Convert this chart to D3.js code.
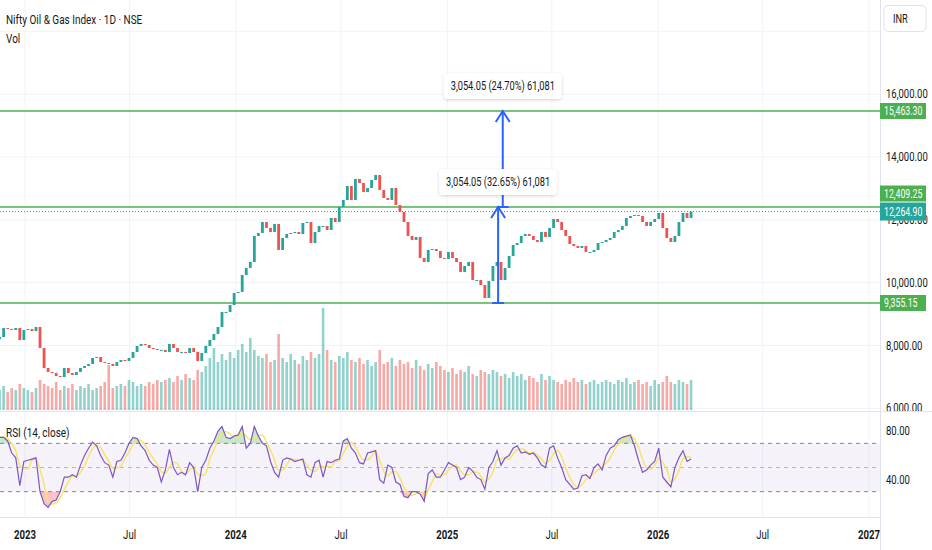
<!DOCTYPE html>
<html>
<head>
<meta charset="utf-8">
<script src="https://cdn.jsdelivr.net/npm/d3@7"></script>
<style>
body { margin: 0; background: #fff; }
text { font-family: Roboto, "Noto Sans", sans-serif; fill: #131722; }
</style>
</head>
<body>
<script>
// weekly closes, first week ending 18 Nov 2022
const startDate = new Date(2022, 10, 18);
const firstOpen = 8200;
const closes = [
  8273, 8560, 8528, 8496, 8560, 8178, 8496, 8528, 8464, 8591,
  7923, 7287, 7159, 7128, 7032, 7000, 7287, 7128, 7064, 7159,
  7287, 7350, 7414, 7605, 7637, 7478, 7446, 7414, 7350, 7478,
  7541, 7510, 7605, 7796, 7987, 8050, 8019, 7923, 7891, 7860,
  7860, 7796, 8050, 7923, 7796, 7796, 7764, 7923, 7796, 7510,
  7764, 7987, 8178, 8369, 8591, 9069, 9069, 9291, 9673, 9705,
  10246, 10469, 10660, 11487, 11582, 11932, 11742, 11614, 11869, 11041,
  11423, 11550, 11582, 11614, 11550, 11901, 11932, 11264, 11614, 11805,
  11805, 11678, 12060, 11932, 12410, 12632, 13078, 12632, 13301, 13173,
  12887, 13014, 13269, 13428, 12951, 12696, 12632, 13014, 12473, 12251,
  11932, 11487, 11360, 11455, 10787, 10660, 11041, 11073, 11010, 10787,
  10755, 10978, 10787, 10660, 10341, 10532, 10660, 10087, 10087, 9928,
  9514, 10055, 10532, 10660, 10087, 10469, 10850, 11200, 11264, 11487,
  11550, 11487, 11360, 11296, 11614, 11455, 11742, 12028, 11932, 11678,
  11487, 11232, 11169, 11105, 11169, 10978, 10978, 11041, 11264, 11296,
  11360, 11423, 11614, 11678, 11805, 12060, 12123, 12155, 12123, 11932,
  11805, 11932, 12028, 12219, 11742, 11423, 11296, 11487, 11932, 12219,
  12060, 12264.9
];
const volumes = [
  20, 24, 18, 22, 20, 26, 22, 20, 18, 22,
  30, 26, 24, 22, 28, 20, 24, 22, 26, 20,
  24, 22, 26, 20, 22, 24, 28, 45, 22, 24,
  26, 24, 30, 28, 24, 26, 24, 28, 26, 30,
  28, 30, 32, 28, 34, 30, 36, 32, 30, 40,
  38, 44, 52, 62, 48, 56, 50, 58, 52, 60,
  66, 58, 72, 60, 54, 52, 56, 48, 50, 76,
  52, 48, 56, 50, 46, 54, 50, 58, 52, 56,
  102, 60, 50, 48, 54, 52, 58, 50, 48, 52,
  46, 50, 44, 48, 60, 46, 48, 52, 44, 50,
  46, 48, 42, 50, 44, 40, 46, 42, 48, 44,
  40, 38, 42, 36, 40, 38, 44, 36, 34, 40,
  38, 36, 40, 38, 34, 36, 32, 38, 34, 36,
  30, 34, 32, 28, 36, 30, 34, 30, 28, 26,
  30, 28, 32, 28, 30, 26, 28, 30, 26, 28,
  30, 28, 26, 30, 28, 32, 26, 28, 30, 26,
  28, 24, 30, 26, 28, 34, 28, 26, 30, 28,
  26, 30
];
const rsiValues = [
  75, 75, 72, 62, 58, 35, 55, 56, 57, 58,
  30, 20, 17, 22, 23, 30, 42, 42, 44, 42,
  52, 60, 66, 71, 68, 60, 54, 52, 42, 55,
  56, 62, 70, 75, 74, 68, 64, 56, 52, 50,
  38, 48, 65, 50, 44, 46, 44, 54, 50, 30,
  50, 56, 66, 72, 80, 84, 75, 74, 76, 77,
  84, 66, 70, 84, 76, 70, 68, 55, 46, 42,
  56, 58, 57, 55, 56, 57, 44, 42, 54, 56,
  42, 55, 54, 56, 57, 72, 74, 66, 62, 54,
  53, 62, 63, 64, 40, 37, 52, 50, 38, 36,
  26, 25, 30, 30, 28, 22, 45, 48, 42, 42,
  48, 54, 52, 50, 40, 42, 50, 47, 42, 40,
  32, 50, 55, 64, 52, 58, 60, 66, 68, 62,
  63, 61, 62, 58, 52, 50, 66, 68, 58, 50,
  40, 36, 32, 33, 43, 44, 41, 50, 53, 48,
  60, 66, 68, 73, 75, 76, 77, 68, 56, 46,
  48, 52, 55, 66, 42, 38, 34, 50, 58, 64,
  55, 57
];
const priceTicks = [6000, 8000, 10000, 12000, 14000, 16000];
const gridOnly = [18000];
const levels = [15463.30, 12409.25, 9355.15];
const lastPrice = 12264.90;
const rsiTicks = [40, 80];
const rsiLines = [70, 50, 30];
const timeTickDates = ['2023-01-01', '2023-07-01', '2024-01-01', '2024-07-01', '2025-01-01', '2025-07-01', '2026-01-01', '2026-07-01', '2027-01-01'];
const timeTickLabels = ['2023', 'Jul', '2024', 'Jul', '2025', 'Jul', '2026', 'Jul', '2027'];
const measures = [
  { date: '2025-03-30', from: 9355.15, to: 12409.25, text: '3,054.05 (32.65%) 61,081' },
  { date: '2025-04-07', from: 12409.25, to: 15463.30, text: '3,054.05 (24.70%) 61,081' }
];

const W = 932, H = 550;
const axisX = 880;
const squeeze = 0.74; // the screenshot glyphs are narrow
const up = '#26a69a', down = '#ef5350', lineGreen = '#4caf50';

const svg = d3.select('body').append('svg').attr('width', W).attr('height', H);
const defs = svg.append('defs');
defs.append('clipPath').attr('id', 'mainClip').append('rect').attr('x', 0).attr('y', 0).attr('width', axisX).attr('height', 411);
defs.append('clipPath').attr('id', 'rsiClip').append('rect').attr('x', 0).attr('y', 412).attr('width', axisX).attr('height', 105);
defs.append('clipPath').attr('id', 'axisClip').append('rect').attr('x', axisX).attr('y', 0).attr('width', W - axisX).attr('height', 411);
const shadow = defs.append('filter').attr('id', 'shadow').attr('x', '-20%').attr('y', '-40%').attr('width', '140%').attr('height', '180%');
shadow.append('feDropShadow').attr('dx', 0).attr('dy', 1).attr('stdDeviation', 1.5).attr('flood-color', '#000').attr('flood-opacity', 0.18);

const parse = d3.timeParse('%Y-%m-%d');
const x = d3.scaleTime().domain([new Date(2023, 0, 1), new Date(2027, 0, 1)]).range([25, 869]);
const y = d3.scaleLinear().domain([5950, 18995]).range([410, 0]);
const yVol = d3.scaleLinear().domain([0, 120]).range([410, 290]);
const yRsi = d3.scaleLinear().domain([9, 96]).range([517, 412]);

const data = closes.map((c, i) => ({
  date: d3.timeDay.offset(startDate, 7 * i),
  open: i ? closes[i - 1] : firstOpen,
  close: c,
  vol: volumes[i],
  rsi: rsiValues[i]
}));
// RSI-based moving average, about 14 sessions = 3 weekly points
data.forEach((d, i) => {
  d.ma = d3.mean(data.slice(Math.max(0, i - 2), i + 1), e => e.rsi);
});

function label(g, px, py, str, size, opts = {}) {
  return g.append('text')
    .attr('transform', `translate(${px},${py}) scale(${opts.sq || squeeze},1)`)
    .attr('font-size', size)
    .attr('text-anchor', opts.anchor || 'start')
    .attr('dominant-baseline', 'central')
    .attr('font-weight', opts.weight || 400)
    .style('fill', opts.color || '#131722')
    .text(str);
}

// grid
const grid = svg.append('g');
grid.selectAll('.hg').data(priceTicks.concat(gridOnly)).enter().append('line')
  .attr('x1', 0).attr('x2', axisX).attr('y1', d => y(d)).attr('y2', d => y(d))
  .attr('stroke', '#f0f3fa').attr('stroke-width', 1);
grid.selectAll('.vg').data(timeTickDates).enter().append('line')
  .attr('x1', d => x(parse(d))).attr('x2', d => x(parse(d)))
  .attr('y1', 0).attr('y2', 517)
  .attr('stroke', '#f0f3fa').attr('stroke-width', 1);

// volume
const main = svg.append('g').attr('clip-path', 'url(#mainClip)');
main.selectAll('.vol').data(data).enter().append('rect')
  .attr('x', d => x(d.date) - 1.3)
  .attr('width', 2.6)
  .attr('y', d => yVol(d.vol))
  .attr('height', d => 410 - yVol(d.vol))
  .attr('fill', d => d.close >= d.open ? up : down)
  .attr('opacity', 0.5);

// support / target lines
main.selectAll('.lvl').data(levels).enter().append('line')
  .attr('x1', 0).attr('x2', axisX).attr('y1', d => y(d)).attr('y2', d => y(d))
  .attr('stroke', lineGreen).attr('stroke-width', 1.5);
main.append('line')
  .attr('x1', 0).attr('x2', axisX).attr('y1', y(lastPrice)).attr('y2', y(lastPrice))
  .attr('stroke', up).attr('stroke-width', 1).attr('stroke-dasharray', '1,2');

// candles
main.selectAll('.candle').data(data).enter().append('rect')
  .attr('x', d => x(d.date) - 1.4)
  .attr('width', 2.8)
  .attr('y', d => y(Math.max(d.open, d.close)))
  .attr('height', d => Math.max(1, Math.abs(y(d.open) - y(d.close))))
  .attr('fill', d => d.close >= d.open ? up : down);

// measure arrows
const blue = '#2962ff';
measures.forEach(m => {
  const mx = x(parse(m.date));
  const top = y(m.to), bot = y(m.from);
  main.append('line').attr('x1', mx).attr('x2', mx).attr('y1', bot).attr('y2', top)
    .attr('stroke', blue).attr('stroke-width', 2);
  main.append('path').attr('d', `M${mx - 7},${top + 11}L${mx},${top}L${mx + 7},${top + 11}`)
    .attr('fill', 'none').attr('stroke', blue).attr('stroke-width', 2);
  main.append('line').attr('x1', mx - 6).attr('x2', mx + 6).attr('y1', bot).attr('y2', bot)
    .attr('stroke', blue).attr('stroke-width', 2);
  const box = svg.append('g');
  const rect = box.append('rect').attr('fill', '#fff').attr('rx', 4).attr('filter', 'url(#shadow)');
  const t = label(box, mx, top - 25, m.text, 12.5, { anchor: 'middle' });
  const tw = t.node().getComputedTextLength() * squeeze;
  rect.attr('x', mx - tw / 2 - 7).attr('y', top - 38).attr('width', tw + 14).attr('height', 26);
});

// RSI pane
const rsiG = svg.append('g').attr('clip-path', 'url(#rsiClip)');
rsiG.append('rect').attr('x', 0).attr('width', axisX)
  .attr('y', yRsi(70)).attr('height', yRsi(30) - yRsi(70))
  .attr('fill', '#7e57c2').attr('opacity', 0.08);
rsiG.append('path').datum(data)
  .attr('d', d3.area().x(d => x(d.date)).y0(yRsi(70)).y1(d => yRsi(Math.max(70, d.rsi))))
  .attr('fill', '#4caf50').attr('opacity', 0.3);
rsiG.append('path').datum(data)
  .attr('d', d3.area().x(d => x(d.date)).y0(yRsi(30)).y1(d => yRsi(Math.min(30, d.rsi))))
  .attr('fill', '#f23645').attr('opacity', 0.3);
rsiG.selectAll('.band').data(rsiLines).enter().append('line')
  .attr('x1', 0).attr('x2', axisX).attr('y1', d => yRsi(d)).attr('y2', d => yRsi(d))
  .attr('stroke', '#787b86').attr('stroke-width', 1)
  .attr('stroke-opacity', d => d === 50 ? 0.5 : 0.9)
  .attr('stroke-dasharray', '4,4');
rsiG.append('path').datum(data)
  .attr('d', d3.line().x(d => x(d.date)).y(d => yRsi(d.ma)).curve(d3.curveMonotoneX))
  .attr('fill', 'none').attr('stroke', '#f5e56b').attr('stroke-width', 1.5);
rsiG.append('path').datum(data)
  .attr('d', d3.line().x(d => x(d.date)).y(d => yRsi(d.rsi)))
  .attr('fill', 'none').attr('stroke', '#7e57c2').attr('stroke-width', 1.2);

// separators
svg.append('line').attr('x1', 0).attr('x2', W).attr('y1', 411.5).attr('y2', 411.5).attr('stroke', '#e0e3eb');
svg.append('line').attr('x1', 0).attr('x2', axisX).attr('y1', 517.5).attr('y2', 517.5).attr('stroke', '#e0e3eb');
svg.append('line').attr('x1', axisX + 0.5).attr('x2', axisX + 0.5).attr('y1', 0).attr('y2', H).attr('stroke', '#e0e3eb');

// price axis
const axisG = svg.append('g').attr('clip-path', 'url(#axisClip)');
priceTicks.forEach(v => label(axisG, 886, y(v), d3.format(',.2f')(v), 12.5, { sq: 0.76 }));
rsiTicks.forEach(v => label(svg, 886, yRsi(v), d3.format('.2f')(v), 12.5, { sq: 0.76 }));

// price tags
const tagY = levels.map(v => {
  let py = y(v);
  if (Math.abs(py - y(lastPrice)) < 17) py = y(lastPrice) - 18;
  return py;
});
levels.forEach((v, i) => {
  svg.append('rect').attr('x', axisX).attr('y', tagY[i] - 8).attr('width', 46).attr('height', 16).attr('fill', lineGreen);
  label(svg, 884, tagY[i], d3.format(',.2f')(v), 12.5, { color: '#fff', sq: 0.7 });
});
svg.append('rect').attr('x', axisX).attr('y', y(lastPrice) - 9).attr('width', 46).attr('height', 18).attr('fill', up);
label(svg, 884, y(lastPrice), d3.format(',.2f')(lastPrice), 12.5, { color: '#fff', sq: 0.7 });

// currency box
svg.append('rect').attr('x', 884).attr('y', 5.5).attr('width', 42).attr('height', 26).attr('rx', 4)
  .attr('fill', '#fff').attr('stroke', '#e0e3eb');
label(svg, 893, 19, 'INR', 12.5);

// time axis
timeTickDates.forEach((d, i) => {
  const isYear = timeTickLabels[i] !== 'Jul';
  label(svg, x(parse(d)), 534, timeTickLabels[i], 13, { anchor: 'middle', weight: isYear ? 700 : 400 });
});

// titles
label(svg, 6, 19, 'Nifty Oil & Gas Index · 1D · NSE', 13.5);
label(svg, 6, 38, 'Vol', 13.5);
label(svg, 6, 432, 'RSI (14, close)', 13.5);
</script>
</body>
</html>
